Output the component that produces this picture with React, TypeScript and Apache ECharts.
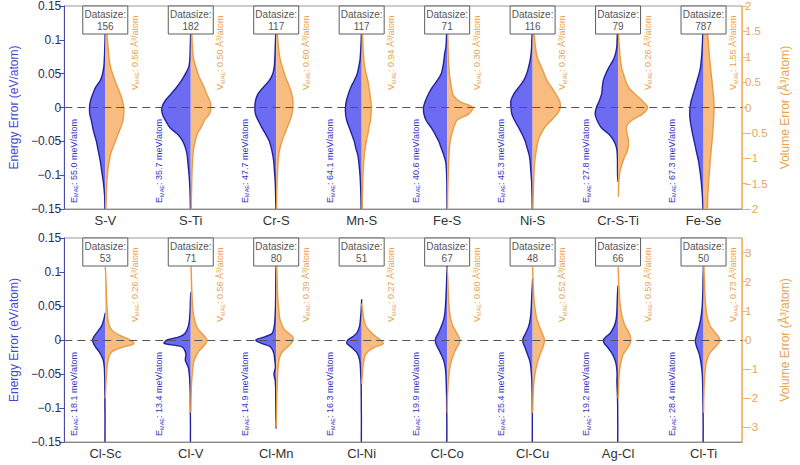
import React, { useEffect, useRef } from 'react';
import * as echarts from 'echarts';

// ---------- categories & annotations ----------
const TOP_CATEGORIES = ['S-V', 'S-Ti', 'Cr-S', 'Mn-S', 'Fe-S', 'Ni-S', 'Cr-S-Ti', 'Fe-Se'];
const BOTTOM_CATEGORIES = ['Cl-Sc', 'Cl-V', 'Cl-Mn', 'Cl-Ni', 'Cl-Co', 'Cl-Cu', 'Ag-Cl', 'Cl-Ti'];
const TOP_DATASIZE = [156, 182, 117, 117, 71, 116, 79, 787];
const BOTTOM_DATASIZE = [53, 71, 80, 51, 67, 48, 66, 50];
const TOP_E_MAE = ['55.0', '35.7', '47.7', '64.1', '40.6', '45.3', '27.8', '67.3'];
const BOTTOM_E_MAE = ['18.1', '13.4', '14.9', '16.3', '19.9', '25.4', '19.2', '28.4'];
const TOP_V_MAE = ['0.56', '0.50', '0.60', '0.94', '0.30', '0.36', '0.26', '1.55'];
const BOTTOM_V_MAE = ['0.26', '0.56', '0.39', '0.27', '0.60', '0.52', '0.59', '0.73'];
const BOTTOM_VOLUME_TICKS = [-3, -2, -1, 0, 1, 2, 3];
const CATEGORY_POSITIONS = [1, 2, 3, 4, 5, 6, 7, 8];

// ---------- violin half-width profiles (density) ----------
const TOP_E_LEVELS = [-0.15, -0.13, -0.11, -0.1, -0.09, -0.08, -0.07, -0.06, -0.05, -0.04, -0.03, -0.02, -0.01, 0, 0.01, 0.02, 0.03, 0.04, 0.05, 0.06, 0.07, 0.08, 0.09, 0.1, 0.11, 0.13, 0.15];
const TOP_E_DENSITY = [
  [0.3, 0.7, 2, 3, 4, 5, 6.3, 7.7, 9, 11, 12.7, 14, 15.7, 16, 15, 12.7, 9.7, 5, 2.7, 1.5, 1, 0.7, 0.5, 0.3, 0.2, 0.1, 0.1],
  [0.3, 0.6, 1.2, 1.7, 2.3, 3, 3.7, 5.3, 8, 13, 21, 25.3, 28.7, 29.3, 26, 20, 14.3, 9.3, 5.3, 2, 1, 0.7, 0.5, 0.3, 0.2, 0.1, 0.1],
  [0.3, 0.6, 1, 1.5, 2, 2.5, 3.5, 5, 7, 10.5, 14.5, 18, 21, 21.7, 21, 18.5, 13, 7, 3.5, 2, 1.5, 1.2, 1, 0.7, 0.5, 0.3, 0.2],
  [0.5, 0.8, 1.3, 1.7, 2.3, 3, 4, 6, 7.5, 10, 12.5, 15, 16.3, 16.5, 15.5, 13.5, 11, 7.5, 4.5, 3, 1.7, 1.2, 0.8, 0.5, 0.3, 0.2, 0.1],
  [0.1, 0.2, 0.3, 0.5, 0.8, 1.5, 3.5, 6, 8.5, 12, 16, 21, 23.5, 24, 22, 19, 15, 10, 6, 4.3, 3.3, 2.5, 1.2, 0.8, 0.5, 0.3, 0.2],
  [0.3, 0.6, 1, 1.5, 2, 2.5, 3.5, 5.5, 7.5, 10.5, 14, 18, 21, 22, 22, 19, 14, 9, 6, 4, 2.5, 1.5, 1, 0.8, 0.5, 0.3, 0.2],
  [null, null, 0, 0.5, 0.6, 0.6, 0.8, 1.5, 4, 9, 17, 21, 23.3, 22, 19, 16.7, 16, 15, 12.5, 9, 5, 2.5, 1.3, 1, 0.7, 0.3, 0.2],
  [0.5, 1.2, 2.3, 3, 4, 5, 6.5, 8, 9.5, 11, 12.3, 13.5, 14, 13.7, 12.5, 10.5, 8.5, 6.5, 4.5, 3, 2.3, 1.7, 1.3, 1, 0.7, 0.5, 0.3],
];
const TOP_V_LEVELS = [-2, -1.75, -1.5, -1.25, -1, -0.875, -0.75, -0.625, -0.5, -0.375, -0.25, -0.125, 0, 0.125, 0.25, 0.375, 0.5, 0.625, 0.75, 0.875, 1, 1.25, 1.5, 1.75, 2];
const TOP_V_DENSITY = [
  [0.5, 1, 1.5, 2.5, 4.5, 6, 8.5, 11, 13.5, 16, 18, 18.7, 18.8, 17.5, 15.5, 13, 10.5, 8, 6, 4.5, 3.7, 2.5, 1.3, 0.6, 0.3],
  [0.5, 0.7, 1, 1.3, 2, 2.5, 3.5, 5, 7, 11, 14, 19, 20.5, 19.5, 16.5, 14, 11, 8, 6, 4, 2.5, 1.5, 1, 0.5, 0.3],
  [0.3, 0.5, 0.8, 1.3, 2.2, 3, 4.5, 6.5, 9, 11.5, 14, 16, 17, 17, 16, 14, 11.5, 9, 7, 5, 3.5, 2, 1, 0.5, 0.3],
  [0.5, 0.7, 1, 1.5, 2.3, 3, 4, 5, 6.5, 7.5, 9, 9.5, 10, 9.3, 8.5, 7.5, 6.5, 5, 3.5, 2.5, 2, 1.2, 0.7, 0.4, 0.2],
  [0.3, 0.5, 0.8, 1.2, 1.7, 2, 2.5, 3.5, 5, 7, 10, 22, 26, 12, 6, 4.5, 3.5, 2.5, 2, 1.5, 1.2, 0.8, 0.6, 0.4, 0.2],
  [0.3, 0.6, 1, 1.5, 2.5, 3.5, 4.5, 6, 9, 13, 19, 25, 28, 27.5, 24, 20, 15.5, 12.5, 10, 7, 4.5, 2.5, 1.3, 0.7, 0.3],
  [null, 0.3, 0.7, 2, 6, 9, 10.5, 10.3, 9, 8.5, 14, 25, 30, 25, 18, 11.5, 8, 6, 4, 2.8, 2, 1, 0.3, 0, null],
  [3.5, 4.2, 5, 6, 7, 7.6, 8.2, 8.8, 9.3, 9.8, 10.2, 10.5, 10.7, 10.5, 10, 9.3, 8.7, 8, 7.3, 6.7, 6, 5, 4, 3.5, 3],
];
const BOTTOM_E_LEVELS = [-0.15, -0.13, -0.11, -0.1, -0.09, -0.08, -0.07, -0.06, -0.05, -0.04, -0.03, -0.02, -0.01, -0.005, 0, 0.005, 0.01, 0.02, 0.03, 0.04, 0.05, 0.06, 0.07, 0.08, 0.09, 0.1, 0.11, 0.13, 0.15];
const BOTTOM_E_DENSITY = [
  [0.3, 0.3, 0.3, 0.4, 0.4, 0.4, 0.5, 0.5, 0.7, 1, 2, 5, 10, 12, 13, 11.5, 9, 4, 1.5, 0, null, null, null, null, null, null, null, null, null],
  [0.3, 0.3, 0.4, 0.4, 0.5, 0.5, 0.7, 1, 1.5, 2.5, 5.5, 5, 9, 27, 24, 11, 5.7, 2.5, 1.3, 0.8, 0.5, 0.3, 0, null, null, null, null, null, null],
  [null, 0, 0.4, 0.4, 0.5, 0.5, 0.6, 1, 2.3, 0.8, 1.5, 2.3, 6, 15, 20.7, 11, 4, 2, 1.3, 1, 0.7, 0.6, 0.5, 0.5, 0.4, 0.3, 0, null, null],
  [0.3, 0.3, 0.3, 0.4, 0.4, 0.5, 0.5, 0.7, 1, 1.3, 2, 4.3, 11, 15, 14, 9, 5, 2.2, 1.3, 0.7, 0.3, 0, null, null, null, null, null, null, null],
  [0.3, 0.3, 0.4, 0.5, 0.5, 0.6, 0.8, 1, 1.3, 2, 3.5, 6.5, 10, 11.5, 12, 11, 9, 6, 3.5, 2.3, 1.7, 1.3, 1, 0.7, 0.5, 0.3, 0, null, null],
  [0.3, 0.3, 0.3, 0.4, 0.4, 0.5, 0.6, 0.8, 1.2, 1.8, 3, 5.5, 8, 9.5, 10, 9, 7, 4, 2.5, 1.7, 1.3, 1, 0.7, 0.3, 0, null, null, null, null],
  [0.3, 0.3, 0.4, 0.4, 0.5, 0.7, 1, 1.2, 1, 1.5, 3, 6, 11, 14, 15, 12, 8, 4, 2, 1.3, 1, 0.8, 0.5, 0, null, null, null, null, null],
  [0.4, 0.4, 0.5, 0.5, 0.6, 0.7, 0.8, 1, 1.3, 2, 3, 4.5, 7, 8, 8.3, 7.5, 6.5, 4.5, 3, 2, 1.3, 1, 0.7, 0.6, 0.5, 0.3, 0, null, null],
];
const BOTTOM_V_LEVELS = [-3.5, -3, -2.5, -2, -1.75, -1.5, -1.25, -1, -0.75, -0.5, -0.375, -0.25, -0.125, 0, 0.125, 0.25, 0.375, 0.5, 0.75, 1, 1.25, 1.5, 1.75, 2, 2.5, 3, 3.5];
const BOTTOM_V_DENSITY = [
  [null, null, null, 0, 0.3, 0.6, 1, 1.5, 2.5, 4.5, 8, 17, 29, 25, 17, 10, 6, 4, 2.5, 2, 1.5, 1.2, 1, 0.8, 0, null, null],
  [null, null, 0, 0.3, 0.5, 0.8, 1.3, 2, 3, 6, 8.5, 12, 15, 16.5, 14, 10.5, 7.5, 5.5, 3.5, 2.3, 1.7, 1.3, 1, 0.8, 0.3, 0, null],
  [null, 0, 0.3, 0.5, 0.8, 1, 1.3, 1.8, 2.5, 4.5, 7, 11, 15, 17, 16.5, 12, 8, 6, 3.5, 2.7, 2, 1.5, 1.2, 1, 0.5, 0, null],
  [null, null, null, null, null, 0, 0.5, 1, 2, 4, 7, 13, 22, 19, 14, 10, 6.5, 4, 2, 1, 0, null, null, null, null, null, null],
  [null, null, 0, 0.3, 0.6, 1, 1.7, 2.5, 4, 6.5, 8, 10, 12, 13, 11.5, 9.5, 7.5, 5.5, 3.5, 2.3, 1.7, 1.3, 1, 0.8, 0, null, null],
  [null, null, 0, 0.4, 0.7, 1.2, 2, 3.3, 5, 7.5, 9, 10.5, 11.5, 12, 11, 9.5, 8, 6.5, 4, 2.8, 1.8, 1.2, 0.8, 0.5, 0, null, null],
  [null, null, null, 0, 0.3, 0.6, 1, 1.7, 3, 5, 7.5, 10, 12, 12.7, 12.5, 11, 9, 7, 4.5, 3, 2, 1.3, 1, 0.7, 0, null, null],
  [null, null, 0, 0.2, 0.4, 0.7, 1.2, 1.8, 3, 5.5, 8, 11.5, 15, 16.5, 15, 12, 9, 6.5, 4, 2.7, 2, 1.5, 1.2, 1, 0.3, 0, null],
];

// density units -> x-axis (category spacing) units
const HALF_WIDTH_PER_DENSITY = 1 / 86.8;

// ---------- styles ----------
const FONT = "'Liberation Sans', Arial, sans-serif";
const BLUE_FILL = '#6c6cf2';
const BLUE_LINE = '#22229e';
const ORANGE_FILL = '#f9bc80';
const ORANGE_LINE = '#e89c45';
const E_TEXT = '#3434c4';
const V_TEXT = '#e8a24e';

function violinRender(levels: number[], density: (number | null)[][], side: number, fill: string, stroke: string) {
  return (params: any, api: any) => {
    const i = params.dataIndex;
    const w = density[i];
    const cx = CATEGORY_POSITIONS[i];
    let first = -1;
    let last = -1;
    for (let k = 0; k < levels.length; k++) {
      if (w[k] != null) {
        if (first < 0) first = k;
        last = k;
      }
    }
    const pts: number[][] = [];
    pts.push(api.coord([cx, levels[first]]));
    for (let k = first; k <= last; k++) {
      const v = (w[k] as number) ?? 0;
      pts.push(api.coord([cx + side * v * HALF_WIDTH_PER_DENSITY, levels[k]]));
    }
    pts.push(api.coord([cx, levels[last]]));
    return {
      type: 'polyline',
      shape: { points: pts, smooth: 0.3 },
      style: { fill, stroke, lineWidth: 1.4, lineJoin: 'round' },
      silent: true,
    };
  };
}

function richFor(color: string) {
  return {
    n: { fontSize: 9, fontFamily: FONT, fill: color, lineHeight: 11 },
    s: { fontSize: 5.5, fontFamily: FONT, fill: color, lineHeight: 6, verticalAlign: 'bottom' },
  };
}

function labelRender(eMae: string[], vMae: string[], sizes: number[]) {
  return (params: any, api: any) => {
    const i = params.dataIndex;
    const cx = CATEGORY_POSITIONS[i];
    const eA = api.coord([cx - 0.37, -0.141]);
    const vA = api.coord([cx + 0.345, 0.136]);
    const top = api.coord([cx, 0.15]);
    return {
      type: 'group',
      children: [
        {
          type: 'text', x: eA[0], y: eA[1], rotation: Math.PI / 2,
          style: { text: `{n|E}{s|MAE}{n|: ${eMae[i]} meV/atom}`, align: 'left', verticalAlign: 'middle', rich: richFor(E_TEXT) },
        },
        {
          type: 'text', x: vA[0], y: vA[1], rotation: Math.PI / 2,
          style: { text: `{n|V}{s|MAE}{n|: ${vMae[i]} Å³/atom}`, align: 'right', verticalAlign: 'middle', rich: richFor(V_TEXT) },
        },
        {
          type: 'rect', shape: { x: top[0] - 22.5, y: top[1], width: 45, height: 28 },
          style: { fill: '#ffffff', stroke: '#5c5c5c', lineWidth: 1 },
        },
        {
          type: 'text', x: top[0], y: top[1] + 14,
          style: { text: `Datasize:\n${sizes[i]}`, align: 'center', verticalAlign: 'middle', fontSize: 10, lineHeight: 12, fill: '#555555', fontFamily: FONT },
        },
      ],
    };
  };
}

const fmt = (v: number) => {
  const r = Math.round(v * 1000) / 1000;
  return r < 0 ? '\u2212' + String(-r) : String(r);
};

function xAxisFor(gridIndex: number, cats: string[]) {
  return {
    type: 'value', gridIndex, min: 0.52, max: 8.45,
    axisLine: { show: true, onZero: false, lineStyle: { color: '#8a8a8a', width: 1 } },
    axisTick: { show: false },
    splitLine: { show: false },
    axisLabel: {
      customValues: CATEGORY_POSITIONS,
      formatter: (v: number) => cats[Math.round(v) - 1] ?? '',
      fontSize: 13, color: '#333333', margin: 5, fontFamily: FONT,
    },
  };
}

function energyAxis(gridIndex: number) {
  return {
    type: 'value', gridIndex, position: 'left', min: -0.15, max: 0.15, interval: 0.05,
    name: 'Energy Error (eV/atom)', nameLocation: 'middle', nameRotate: 90, nameGap: 33,
    nameTextStyle: { color: '#4646d4', fontSize: 12, fontFamily: FONT },
    axisLine: { show: true, onZero: false, lineStyle: { color: '#4b4ba6', width: 1 } },
    axisTick: { show: true, length: 5, lineStyle: { color: '#4b4ba6' } },
    axisLabel: { fontSize: 12, color: '#2c2c5c', margin: 3, formatter: fmt, fontFamily: FONT },
    splitLine: { show: false },
  };
}

function volumeAxis(gridIndex: number, bottom: boolean) {
  const base: any = {
    type: 'value', gridIndex, position: 'right',
    name: 'Volume Error (Å³/atom)', nameLocation: 'middle', nameRotate: 90, nameGap: 37,
    nameTextStyle: { color: '#e9a24c', fontSize: 12, fontFamily: FONT },
    axisLine: { show: true, onZero: false, lineStyle: { color: '#f0b46c', width: 1 } },
    axisTick: { show: true, length: 5, lineStyle: { color: '#f0b46c' } },
    axisLabel: { fontSize: 11.5, color: '#e4a75e', margin: 3, formatter: fmt, fontFamily: FONT },
    splitLine: { show: false },
  };
  if (bottom) {
    base.min = -3.5;
    base.max = 3.5;
    base.axisLabel.customValues = BOTTOM_VOLUME_TICKS;
    base.axisTick.customValues = BOTTOM_VOLUME_TICKS;
  } else {
    base.min = -2;
    base.max = 2;
    base.interval = 0.5;
  }
  return base;
}

function buildOption() {
  const catData = CATEGORY_POSITIONS.map((p) => [p, 0]);
  const zeroLine = {
    silent: true, symbol: ['none', 'none'], label: { show: false },
    lineStyle: { color: '#555555', type: [8, 5], width: 1.2 },
    data: [{ yAxis: 0 }],
  };
  return {
    animation: false,
    backgroundColor: '#ffffff',
    textStyle: { fontFamily: FONT },
    grid: [
      { left: 54, right: 58, top: 6, height: 203, show: true, borderColor: '#9a9a9a', borderWidth: 1, backgroundColor: 'transparent' },
      { left: 54, right: 58, top: 238, height: 204, show: true, borderColor: '#9a9a9a', borderWidth: 1, backgroundColor: 'transparent' },
    ],
    xAxis: [xAxisFor(0, TOP_CATEGORIES), xAxisFor(1, BOTTOM_CATEGORIES)],
    yAxis: [energyAxis(0), volumeAxis(0, false), energyAxis(1), volumeAxis(1, true)],
    series: [
      { type: 'custom', xAxisIndex: 0, yAxisIndex: 0, data: catData, clip: true, z: 2, silent: true,
        renderItem: violinRender(TOP_E_LEVELS, TOP_E_DENSITY, -1, BLUE_FILL, BLUE_LINE) },
      { type: 'custom', xAxisIndex: 0, yAxisIndex: 1, data: catData, clip: true, z: 2, silent: true,
        renderItem: violinRender(TOP_V_LEVELS, TOP_V_DENSITY, 1, ORANGE_FILL, ORANGE_LINE) },
      { type: 'custom', xAxisIndex: 1, yAxisIndex: 2, data: catData, clip: true, z: 2, silent: true,
        renderItem: violinRender(BOTTOM_E_LEVELS, BOTTOM_E_DENSITY, -1, BLUE_FILL, BLUE_LINE) },
      { type: 'custom', xAxisIndex: 1, yAxisIndex: 3, data: catData, clip: true, z: 2, silent: true,
        renderItem: violinRender(BOTTOM_V_LEVELS, BOTTOM_V_DENSITY, 1, ORANGE_FILL, ORANGE_LINE) },
      { type: 'custom', xAxisIndex: 0, yAxisIndex: 0, data: catData, z: 6, silent: true,
        renderItem: labelRender(TOP_E_MAE, TOP_V_MAE, TOP_DATASIZE), markLine: zeroLine },
      { type: 'custom', xAxisIndex: 1, yAxisIndex: 2, data: catData, z: 6, silent: true,
        renderItem: labelRender(BOTTOM_E_MAE, BOTTOM_V_MAE, BOTTOM_DATASIZE), markLine: zeroLine },
    ],
  };
}

export default function App() {
  const ref = useRef<HTMLDivElement>(null);
  useEffect(() => {
    if (!ref.current) return;
    const chart = echarts.init(ref.current, null, { renderer: 'svg' });
    chart.setOption(buildOption() as any);
    return () => chart.dispose();
  }, []);
  return <div ref={ref} style={{ width: 800, height: 465, position: 'absolute', left: 0, top: 0 }} />;
}
